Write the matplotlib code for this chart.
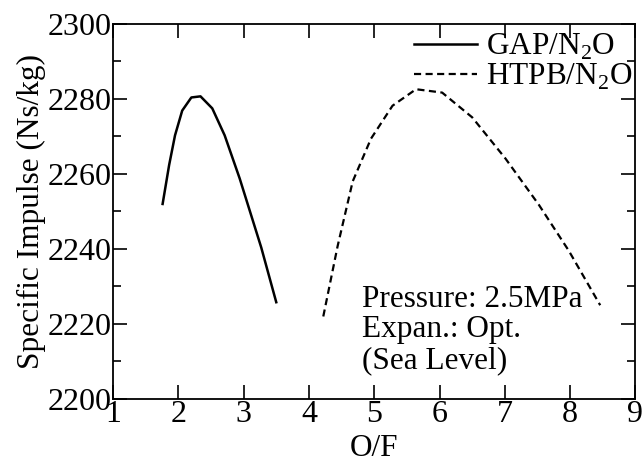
import matplotlib
matplotlib.use("Agg")
import matplotlib.pyplot as plt
from matplotlib.ticker import MultipleLocator

# ─── DATA ───────────────────────────────────────────────────────────────────────
gap_of  = [1.76, 1.86, 1.95, 2.06, 2.20, 2.34, 2.52, 2.71, 2.94, 3.27, 3.50]
gap_isp = [2252.0, 2262.4, 2270.3, 2276.9, 2280.4, 2280.7, 2277.5, 2270.3, 2258.8, 2240.4, 2225.8]

htpb_of  = [4.22, 4.44, 4.67, 4.95, 5.28, 5.64, 6.04, 6.50, 7.01, 7.52, 7.98, 8.46]
htpb_isp = [2222.0, 2240.8, 2258.0, 2269.4, 2278.2, 2282.6, 2281.7, 2275.1, 2264.1, 2251.8, 2239.5, 2225.0]

FS = 22.5
plt.rcParams["font.family"] = ["Liberation Serif", "DejaVu Serif"]
plt.rcParams["mathtext.fontset"] = "custom"
plt.rcParams["mathtext.rm"] = "Liberation Serif"

fig = plt.figure(figsize=(6.43, 4.69), dpi=100)
ax = fig.add_axes([0.1757, 0.1493, 0.8126, 0.7996])

ax.plot(gap_of, gap_isp, color="black", lw=1.8, ls="-", label="GAP/N$_\\mathrm{2}$O")
ax.plot(htpb_of, htpb_isp, color="black", lw=1.6, ls=(0, (3.2, 2.0)), label="HTPB/N$_\\mathrm{2}$O")

ax.set_xlim(1, 9)
ax.set_ylim(2200, 2300)
ax.xaxis.set_major_locator(MultipleLocator(1))
ax.yaxis.set_major_locator(MultipleLocator(20))
ax.yaxis.set_minor_locator(MultipleLocator(10))
ax.tick_params(which="both", direction="in", top=True, right=True, labelsize=23, width=1.2)
ax.tick_params(which="major", length=10, pad=1)
ax.tick_params(which="minor", length=6)
ax.tick_params(axis="x", which="minor", top=False, bottom=False)
for s in ax.spines.values():
    s.set_linewidth(1.3)

ax.set_xlabel("O/F", fontsize=FS, labelpad=3)
ax.set_ylabel("Specific Impulse (Ns/kg)", fontsize=FS, labelpad=1)

ax.legend(loc="upper right", bbox_to_anchor=(1.03, 1.03), frameon=False, fontsize=FS,
          handlelength=2.0, handletextpad=0.3, labelspacing=0.0, borderaxespad=0.2)

ax.text(4.81, 2230.5, "Pressure: 2.5MPa\nExpan.: Opt.\n(Sea Level)", fontsize=FS,
        ha="left", va="top", linespacing=1.08)

fig.savefig("out.png", dpi=100)
